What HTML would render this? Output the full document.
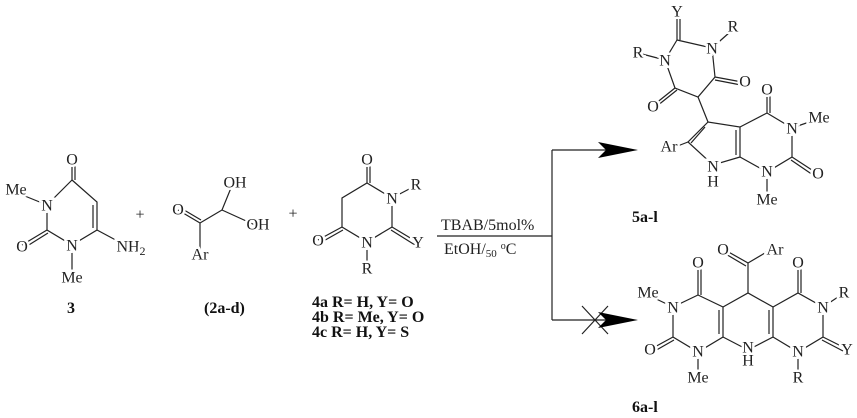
<!DOCTYPE html>
<html><head><style>html,body{margin:0;padding:0;background:#fff}svg{display:block}</style></head><body>
<svg width="857" height="418" viewBox="0 0 857 418" xmlns="http://www.w3.org/2000/svg">
<g stroke="#222" stroke-width="1.2" fill="none">
<path d="M72,180 L47,205 L47,230 L72,245 L97,230 L97,202 Z"/>
<path d="M93,205 L93,228"/>
<path d="M72,180 L72,162 M75,180 L75,162"/>
<path d="M47,230 L22,245 M48,233 L24,248"/>
<path d="M47,205 L15,192 M72,245 L72,275 M97,230 L125,245"/>
<path d="M178,210 L200,223 M179,207 L201,220 M200,223 L222,210 L233,183 M222,210 L255,225 M200,223 L200,252"/>
<path d="M367,183 L392,198 L392,227 L367,242 L342,227 L342,198 Z"/>
<path d="M367,183 L367,162 M370,183 L370,162 M342,227 L318,240 M343,230 L320,243 M392,227 L417,242 M391,230 L415,245 M392,198 L413,187 M367,242 L367,266"/>
<path d="M437,236 L552,236 M552,150 L552,320 M552,150 L610,150 M552,320 L610,320 M582,306 L608,334 M582,334 L608,306"/>
<path d="M677,40 L712,48 L715,77 L698,97 L675,88 L665,60 Z"/>
<path d="M677,40 L677,15 M680,40 L680,15 M712,48 L730,32 M665,60 L642,54 M715,77 L742,82 M715,80 L741,85 M675,88 L655,104 M677,90 L657,106 M698,97 L708,122"/>
<path d="M708,122 L688,142 L713,165 L740,157 L740,127 Z M705,127 L691,143 M736,130 L736,155"/>
<path d="M688,142 L675,147 M740,127 L767,113 L792,128 L792,157 L767,172 L740,157 M767,113 L767,92 M770,113 L770,92 M792,128 L815,120 M792,157 L815,172 M791,160 L813,175 M767,172 L767,198"/>
<path d="M698,295 L673,307 L673,337 L698,352 L723,337 L723,307 Z M719,310 L719,334"/>
<path d="M698,295 L698,265 M701,295 L701,265 M673,307 L650,296 M673,337 L651,349 M674,340 L653,352 M698,352 L698,375"/>
<path d="M723,307 L748,293 L773,307 L773,337 L748,350 L723,337 M769,310 L769,334"/>
<path d="M748,293 L748,263 L725,250 M746,266 L724,253 M748,263 L770,250"/>
<path d="M773,307 L798,293 L823,307 L823,337 L798,352 L773,337 M798,293 L798,265 M801,293 L801,265 M823,307 L841,295 M823,337 L845,348 M822,340 L843,351 M798,352 L798,375"/>
</g>
<g fill="#000">
<polygon points="598,142 638,150 598,158 606,150"/>
<polygon points="598,312 638,320 598,328 606,320"/>
</g>
<g font-family="Liberation Serif, serif" font-size="16" fill="#222" text-anchor="middle" dominant-baseline="central" stroke="#fff" stroke-width="5" paint-order="stroke">
<text x="72" y="160">O</text><text x="47" y="206">N</text><text x="16" y="190">Me</text>
<text x="22" y="247">O</text><text x="72" y="246">N</text><text x="72" y="278">Me</text>
<text x="131" y="247">NH<tspan font-size="12" dy="4">2</tspan></text>
<text x="140" y="215" stroke-width="0">+</text>
<text x="178" y="210">O</text><text x="235" y="183">OH</text><text x="258" y="225">OH</text><text x="200" y="255">Ar</text>
<text x="293" y="214" stroke-width="0">+</text>
<text x="367" y="160">O</text><text x="392" y="199">N</text><text x="416" y="185">R</text>
<text x="418" y="243">Y</text><text x="367" y="243">N</text><text x="318" y="241">O</text><text x="367" y="269">R</text>
<text x="677" y="12">Y</text><text x="712" y="49">N</text><text x="733" y="27">R</text>
<text x="665" y="61">N</text><text x="638" y="53">R</text><text x="745" y="82">O</text><text x="653" y="107">O</text>
<text x="669" y="147">Ar</text><text x="713" y="167">N</text><text x="713" y="182">H</text>
<text x="767" y="90">O</text><text x="792" y="129">N</text><text x="819" y="118">Me</text>
<text x="818" y="174">O</text><text x="767" y="172">N</text><text x="767" y="200">Me</text>
<text x="698" y="263">O</text><text x="673" y="308">N</text><text x="648" y="293">Me</text>
<text x="650" y="350">O</text><text x="698" y="352">N</text><text x="698" y="378">Me</text>
<text x="723" y="250">O</text><text x="775" y="250">Ar</text>
<text x="748" y="348">N</text><text x="748" y="361">H</text>
<text x="798" y="263">O</text><text x="823" y="308">N</text><text x="844" y="293">R</text>
<text x="847" y="350">Y</text><text x="798" y="352">N</text><text x="798" y="378">R</text>
</g>
<g font-family="Liberation Serif, serif" font-size="16" fill="#222">
<text x="441" y="230">TBAB/5mol%</text>
<text x="444" y="254">EtOH/<tspan font-size="11" dy="3">50</tspan><tspan dy="-3"> </tspan><tspan font-size="10" dy="-5">o</tspan><tspan dy="5">C</tspan></text>
</g>
<g font-family="Liberation Serif, serif" font-size="16" font-weight="bold" fill="#111">
<text x="67" y="313">3</text>
<text x="204" y="313">(2a-d)</text>
<text x="312" y="307">4a R= H, Y= O</text>
<text x="312" y="322">4b R= Me, Y= O</text>
<text x="312" y="337">4c R= H, Y= S</text>
<text x="632" y="222">5a-l</text>
<text x="632" y="412">6a-l</text>
</g>
</svg>
</body></html>
